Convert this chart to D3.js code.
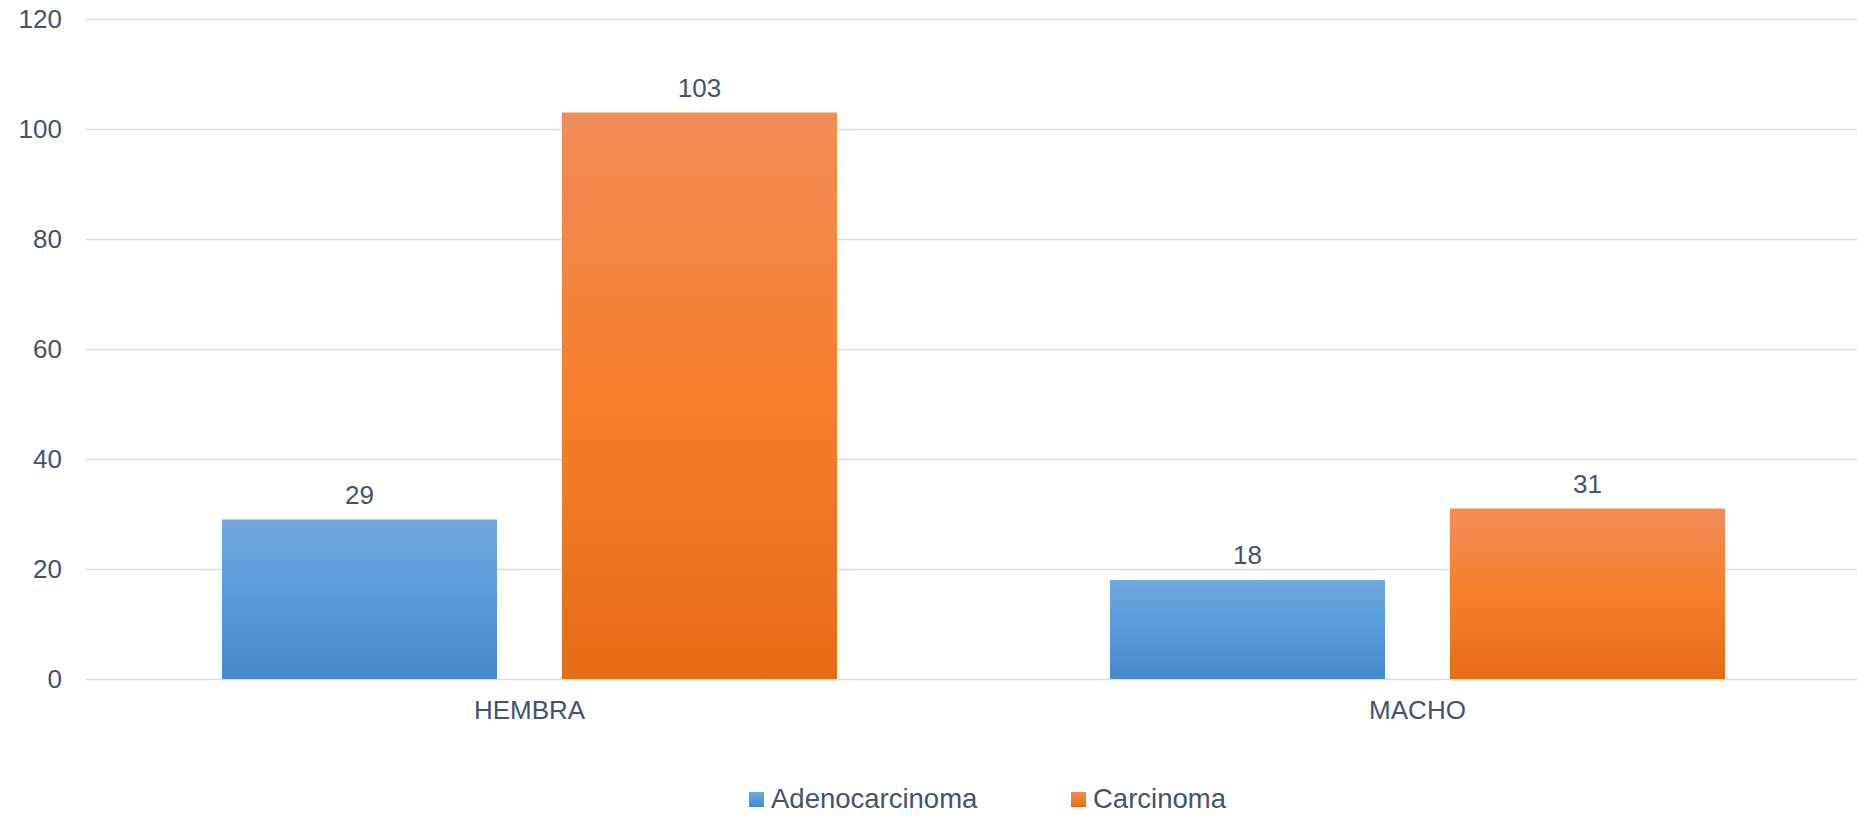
<!DOCTYPE html>
<html>
<head>
<meta charset="utf-8">
<script src="https://cdn.jsdelivr.net/npm/d3@7"></script>
<style>
  body { margin: 0; background: #fff; }
  text { font-family: "Liberation Sans", Arial, sans-serif; fill: #44546a; }
</style>
</head>
<body>
<div id="chart"></div>
<script>

/**
 * Data
 */

const categories = ['HEMBRA', 'MACHO'];
const seriesNames = ['Adenocarcinoma', 'Carcinoma'];
const adenocarcinoma = [29, 18];
const carcinoma = [103, 31];
const yTicks = [0, 20, 40, 60, 80, 100, 120];

const seriesValues = [adenocarcinoma, carcinoma];


/**
 * Setup
 */

const width = 1857;
const height = 815;

const gradients = {
  Adenocarcinoma: ['#72a8dd', '#559bdc', '#4589c9'],
  Carcinoma: ['#f18d57', '#f57f2c', '#e46c17'],
};

const svg = d3.select('#chart')
              .append('svg')
              .attr('width', width)
              .attr('height', height);

const defs = svg.append('defs');

seriesNames.forEach((name, i) => {
  const grad = defs.append('linearGradient')
                   .attr('id', `grad-${i}`)
                   .attr('x1', 0).attr('y1', 0)
                   .attr('x2', 0).attr('y2', 1);
  gradients[name].forEach((color, j) => {
    grad.append('stop')
        .attr('offset', `${j * 50}%`)
        .attr('stop-color', color);
  });
});

const y = d3.scaleLinear()
            .domain([0, 120])
            .range([679, 19]);

const x0 = d3.scaleBand()
             .domain(categories)
             .range([85.5, 1861.5]);

const x1 = d3.scaleBand()
             .domain(seriesNames)
             .range([0, x0.bandwidth()])
             .paddingInner(0.191)
             .paddingOuter(0.4015);


/**
 * Gridlines + axis labels
 */

svg.append('g')
   .selectAll('line')
   .data(yTicks)
   .enter()
   .append('line')
   .attr('x1', 85.5)
   .attr('x2', width)
   .attr('y1', d => Math.round(y(d)) + 0.5)
   .attr('y2', d => Math.round(y(d)) + 0.5)
   .attr('stroke', '#d9dee6')
   .attr('stroke-width', 1.3);

svg.append('g')
   .selectAll('text')
   .data(yTicks)
   .enter()
   .append('text')
   .attr('x', 62)
   .attr('y', d => y(d))
   .attr('dy', '0.35em')
   .attr('text-anchor', 'end')
   .style('font-size', '26px')
   .text(d => d);

svg.append('g')
   .selectAll('text')
   .data(categories)
   .enter()
   .append('text')
   .attr('x', d => x0(d) + x0.bandwidth() / 2)
   .attr('y', 719)
   .attr('text-anchor', 'middle')
   .style('font-size', '26px')
   .text(d => d);


/**
 * Bars
 */

const groups = svg.append('g')
                  .selectAll('g')
                  .data(categories)
                  .enter()
                  .append('g')
                  .attr('transform', d => `translate(${x0(d)},0)`);

const bars = groups.selectAll('g')
                   .data((d, ci) => seriesNames.map((name, si) => ({
                     name, si, value: seriesValues[si][ci],
                   })))
                   .enter()
                   .append('g');

bars.append('rect')
    .attr('x', d => x1(d.name))
    .attr('width', x1.bandwidth())
    .attr('y', d => y(d.value))
    .attr('height', d => y(0) - y(d.value))
    .attr('fill', d => `url(#grad-${d.si})`);

bars.append('text')
    .attr('x', d => x1(d.name) + x1.bandwidth() / 2)
    .attr('y', d => y(d.value) - 16)
    .attr('text-anchor', 'middle')
    .style('font-size', '26px')
    .text(d => d.value);


/**
 * Legend
 */

const legend = svg.append('g')
                  .selectAll('g')
                  .data(seriesNames)
                  .enter()
                  .append('g')
                  .attr('transform', (d, i) => `translate(${749 + i * 322},0)`);

legend.append('rect')
      .attr('x', 0)
      .attr('y', 792)
      .attr('width', 15)
      .attr('height', 15)
      .attr('fill', (d, i) => `url(#grad-${i})`);

legend.append('text')
      .attr('x', 22)
      .attr('y', 808)
      .style('font-size', '27.5px')
      .text(d => d);

</script>
</body>
</html>
